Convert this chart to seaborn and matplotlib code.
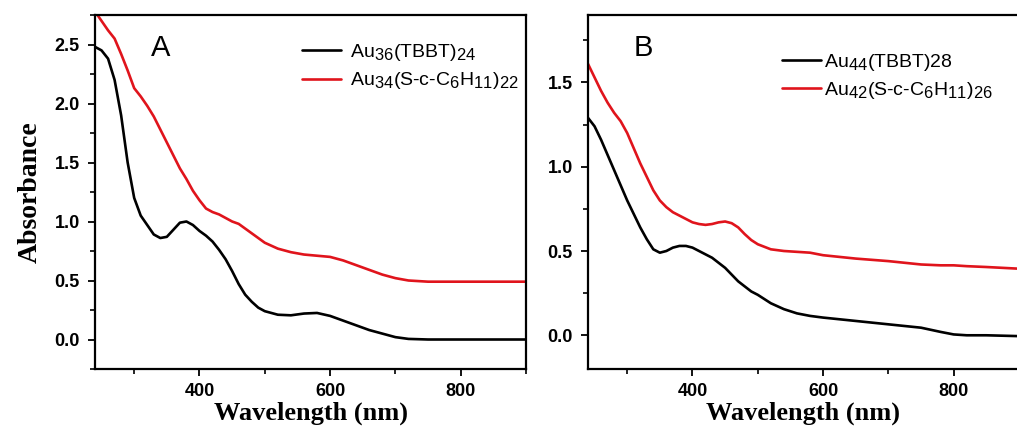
import numpy as np
import pandas as pd
import matplotlib
matplotlib.use("Agg")
import matplotlib.pyplot as plt
from matplotlib.ticker import MultipleLocator, FormatStrFormatter
import seaborn as sns
try:
    import matplotlib._mathtext as _mt
    _mt.SHRINK_FACTOR = 0.85
except Exception:
    pass

# ---- data ----
wl_a = [240, 250, 260, 270, 280, 290, 300, 310, 320, 330, 340, 350, 360, 370, 380, 390,
        400, 410, 420, 430, 440, 450, 460, 470, 480, 490, 500, 520, 540, 560, 580, 600,
        620, 640, 660, 680, 700, 720, 750, 800, 850, 900]
au36 = [2.48, 2.45, 2.38, 2.20, 1.90, 1.50, 1.20, 1.05, 0.97, 0.89, 0.86, 0.87, 0.93, 0.99,
        1.00, 0.97, 0.92, 0.88, 0.83, 0.76, 0.68, 0.58, 0.47, 0.38, 0.32, 0.27, 0.24, 0.21,
        0.205, 0.22, 0.225, 0.20, 0.16, 0.12, 0.08, 0.05, 0.02, 0.005, 0.0, 0.0, 0.0, 0.0]
au34 = [2.78, 2.70, 2.62, 2.55, 2.42, 2.28, 2.13, 2.06, 1.98, 1.89, 1.78, 1.67, 1.56, 1.45,
        1.36, 1.26, 1.18, 1.11, 1.08, 1.06, 1.03, 1.00, 0.98, 0.94, 0.90, 0.86, 0.82, 0.77,
        0.74, 0.72, 0.71, 0.70, 0.67, 0.63, 0.59, 0.55, 0.52, 0.50, 0.49, 0.49, 0.49, 0.49]

wl_b = [240, 250, 260, 270, 280, 290, 300, 310, 320, 330, 340, 350, 360, 370, 380, 390,
        400, 410, 420, 430, 440, 450, 460, 470, 480, 490, 500, 520, 540, 560, 580, 600,
        650, 700, 750, 780, 800, 820, 850, 900]
au44 = [1.29, 1.24, 1.16, 1.07, 0.98, 0.89, 0.80, 0.72, 0.64, 0.57, 0.51, 0.49, 0.50, 0.52,
        0.53, 0.53, 0.52, 0.50, 0.48, 0.46, 0.43, 0.40, 0.36, 0.32, 0.29, 0.26, 0.24, 0.19,
        0.155, 0.13, 0.115, 0.105, 0.085, 0.065, 0.045, 0.02, 0.005, 0.0, 0.0, -0.005]
au42 = [1.61, 1.53, 1.45, 1.38, 1.32, 1.27, 1.20, 1.11, 1.02, 0.94, 0.86, 0.80, 0.76, 0.73,
        0.71, 0.69, 0.67, 0.66, 0.655, 0.66, 0.67, 0.675, 0.665, 0.64, 0.60, 0.565, 0.54, 0.51,
        0.50, 0.495, 0.49, 0.475, 0.455, 0.44, 0.42, 0.415, 0.415, 0.41, 0.405, 0.395]

lab_a = [r'Au$_{36}$(TBBT)$_{24}$', r'Au$_{34}$(S-c-C$_6$H$_{11}$)$_{22}$']
lab_b = [r'Au$_{44}$(TBBT)28', r'Au$_{42}$(S-c-C$_6$H$_{11}$)$_{26}$']
colors = ['#000000', '#e0141c']
xticks = [400, 600, 800]

sns.set_theme(style="ticks")
plt.rcParams['font.family'] = ['Liberation Sans', 'DejaVu Sans']
plt.rcParams['mathtext.fontset'] = 'custom'
plt.rcParams['mathtext.rm'] = 'Liberation Sans'
plt.rcParams['mathtext.it'] = 'Liberation Sans'
plt.rcParams['mathtext.default'] = 'regular'
for k in ('text.color', 'axes.labelcolor', 'xtick.color', 'ytick.color', 'axes.edgecolor'):
    plt.rcParams[k] = 'black'

fig = plt.figure(figsize=(10.17, 4.28), dpi=100)
axA = fig.add_axes([95/1017, 1-369/428, 431/1017, 354/428])
axB = fig.add_axes([588/1017, 1-369/428, 431/1017, 354/428])

dfA = pd.concat([pd.DataFrame({'wl': wl_a, 'abs': au36, 's': lab_a[0]}),
                 pd.DataFrame({'wl': wl_a, 'abs': au34, 's': lab_a[1]})])
dfB = pd.concat([pd.DataFrame({'wl': wl_b, 'abs': au44, 's': lab_b[0]}),
                 pd.DataFrame({'wl': wl_b, 'abs': au42, 's': lab_b[1]})])

sns.lineplot(data=dfA, x='wl', y='abs', hue='s', palette=colors, lw=1.9, ax=axA, sort=False)
sns.lineplot(data=dfB, x='wl', y='abs', hue='s', palette=colors, lw=1.9, ax=axB, sort=False)

axA.set_xlim(240, 900); axA.set_ylim(-0.25, 2.75)
axB.set_xlim(240, 900); axB.set_ylim(-0.2, 1.9)

for ax in (axA, axB):
    ax.set_xticks(xticks)
    ax.xaxis.set_major_formatter(FormatStrFormatter('%d'))
    ax.xaxis.set_minor_locator(MultipleLocator(100))
    ax.yaxis.set_major_locator(MultipleLocator(0.5))
    ax.yaxis.set_minor_locator(MultipleLocator(0.25))
    ax.tick_params(which='major', direction='out', length=5, width=1.3, labelsize=13,
                   top=False, right=False, colors='black')
    ax.tick_params(which='minor', direction='out', length=3.5, width=1.2, top=False,
                   right=False, colors='black')
    ax.tick_params(axis='x', pad=5)
    ax.tick_params(axis='y', pad=6)
    for lbl in ax.get_xticklabels() + ax.get_yticklabels():
        lbl.set_fontweight('bold')
    for sp in ax.spines.values():
        sp.set_linewidth(1.6)
        sp.set_color('black')
    ax.set_xlabel('Wavelength (nm)', family='Liberation Serif', fontweight='bold',
                  fontsize=19, labelpad=1, color='black')

axA.set_ylabel('Absorbance', family='Liberation Serif', fontweight='bold', fontsize=20,
               labelpad=8, color='black')
axB.set_ylabel('')

legA = axA.legend(frameon=False, fontsize=14, handlelength=2.0, handletextpad=0.5,
                  labelspacing=0.4, borderpad=0, borderaxespad=0,
                  loc='upper left', bbox_to_anchor=(0.48, 0.925))
legB = axB.legend(frameon=False, fontsize=14, handlelength=2.0, handletextpad=0.15,
                  labelspacing=0.35, borderpad=0, borderaxespad=0,
                  loc='upper left', bbox_to_anchor=(0.45, 0.895))
for leg in (legA, legB):
    for t in leg.get_texts():
        t.set_color('black')

axA.text(0.13, 0.945, 'A', transform=axA.transAxes, fontsize=21, va='top', ha='left',
         color='black')
axB.text(0.105, 0.945, 'B', transform=axB.transAxes, fontsize=21, va='top', ha='left',
         color='black')

fig.savefig('out.png', dpi=100)
